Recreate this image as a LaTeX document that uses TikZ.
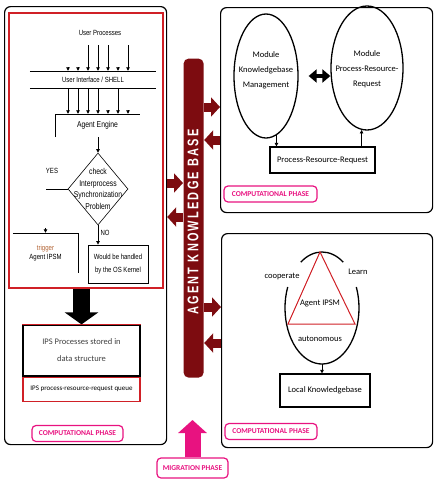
\documentclass[tikz,border=0pt]{standalone}
\usepackage{fontspec}
\usepackage{graphicx}
\setmainfont{Carlito}
\newfontfamily\narrowfont[FakeStretch=0.8]{Liberation Sans}
\newfontfamily\barfont[LetterSpace=20]{Liberation Sans}
\usepackage{tikz}
\usetikzlibrary{arrows.meta,shapes.geometric}

\definecolor{kbred}{RGB}{125,12,16}
\definecolor{phasepink}{RGB}{232,18,128}
\definecolor{boxred}{RGB}{208,32,38}
\definecolor{trigbrown}{RGB}{176,96,48}

\tikzset{
	panel/.style={draw, line width=1.2, rounded corners=6, anchor=north west, inner sep=0},
	phase/.style={draw=phasepink, line width=1.2, rounded corners=4, text=phasepink, font=\fontsize{7.5}{8}\selectfont\bfseries, inner sep=2, minimum height=16},
	narrowtxt/.style={font=\narrowfont\fontsize{7.5}{11}\selectfont, inner sep=0, align=center},
	modtxt/.style={font=\fontsize{8.5}{15}\selectfont, inner sep=1, align=center},
	module/.style={draw, ellipse, line width=1.3, inner sep=0},
	decision/.style={draw, diamond, line width=0.6, inner sep=0, minimum width=60, minimum height=72},
	tickarrow/.style={line width=0.8, -{Triangle[length=3.5pt,width=3.5pt]}},
	kbarrow/.style={kbred, line width=9, -{Triangle[length=9pt,width=19pt]}},
	bigarrow/.style={black, line width=17, -{Triangle[length=12pt,width=33pt]}},
	migarrow/.style={phasepink, line width=16, -{Triangle[length=13pt,width=28pt]}},
	duoarrow/.style={line width=4.5, {Triangle[length=8pt,width=13pt]}-{Triangle[length=8pt,width=13pt]}}
}

\begin{document}
\begin{tikzpicture}[x=1pt,y=-1pt]
	\useasboundingbox (0,0) rectangle (439,479);
	\node[panel, minimum width=162, minimum height=438] (leftpanel) at (4,6) {};
	\node[panel, draw=boxred, line width=1.6, rounded corners=0, minimum width=154, minimum height=275] (redbox) at (8,12) {};
	\node[panel, minimum width=212, minimum height=205] (toppanel) at (220,7) {};
	\node[panel, minimum width=211, minimum height=214] (botpanel) at (221,233) {};
	\node[panel, draw=none, fill=kbred, rounded corners=5, minimum width=20, minimum height=319] (kb) at (183,58) {};
	\node[rotate=90, inner sep=0, text=white, font=\barfont\bfseries\fontsize{11}{12}\selectfont] (kbtext) at (193,222) {\scalebox{1}[1.4]{AGENT KNOWLEDGE BASE}};

	\draw[kbarrow] (kb.east |- 0,107) -- (toppanel.west |- 0,107);
	\draw[kbarrow] (toppanel.west |- 0,140) -- (kb.east |- 0,140);
	\draw[kbarrow] (leftpanel.east |- 0,183) -- (kb.west |- 0,183);
	\draw[kbarrow] (kb.west |- 0,217) -- (leftpanel.east |- 0,217);
	\draw[kbarrow] (kb.east |- 0,307) -- (botpanel.west |- 0,307);
	\draw[kbarrow] (botpanel.west |- 0,343) -- (kb.east |- 0,343);

	\node[narrowtxt] (userproc) at (100,33) {User Processes};
	\node[narrowtxt, minimum width=126, minimum height=17] (shell) at (93,79.5) {User Interface / SHELL};
	\draw (shell.north west) -- (shell.north east) (shell.south west) -- (shell.south east);
	\foreach \x in {88,98,108,128}
		\draw[tickarrow] (\x,45) -- (\x,0 |- shell.north);
	\foreach \x in {68,78,118}
		\draw[tickarrow] (\x,67) -- (\x,0 |- shell.north);

	\node[narrowtxt, minimum width=85, minimum height=23, font=\narrowfont\fontsize{8.5}{11}\selectfont] (engine) at (97.5,125.5) {Agent Engine};
	\draw (engine.south west) -- (engine.north west) -- (engine.north east);
	\foreach \x in {68,78,88,98,118}
		\draw[tickarrow] (\x,0 |- shell.south) -- (\x,0 |- engine.north);
	\foreach \x in {108,128}
		\draw[tickarrow] (\x,110) -- (\x,0 |- engine.north);

	\node[decision] (check) at (98,189) {};
	\node[narrowtxt, font=\narrowfont\fontsize{8.5}{11.5}\selectfont] (checktxt) at (check) {check\\Interprocess\\Synchronization\\Problem};
	\draw[tickarrow] (check.north |- engine.south) -- (check.north);

	\node[narrowtxt, minimum width=65, minimum height=40, font=\narrowfont\fontsize{7.5}{9.5}\selectfont] (trigger) at (45.5,253) {\textcolor{trigbrown}{trigger}\\Agent IPSM};
	\draw (trigger.north west) -- (trigger.north east) -- (trigger.south east);
	\draw (check.west) -- (check.west -| trigger.north);
	\node[narrowtxt] (yes) at (52,171) {YES};
	\draw[tickarrow] ([yshift=5]trigger.north) -- (trigger.north);

	\node[narrowtxt, draw, line width=0.8, minimum width=60, minimum height=38, font=\narrowfont\fontsize{7.5}{12.5}\selectfont] (oskernel) at (118,264) {Would be handled\\by the OS Kernel};
	\draw[tickarrow] (check.south) -- (check.south |- oskernel.north);
	\node[narrowtxt] (no) at (105,233) {NO};

	\node[draw, line width=1.2, minimum width=117, minimum height=51, inner sep=0, align=center, text=darkgray, font=\fontsize{8.5}{17}\selectfont] (ips) at (81.5,350.5) {IPS Processes stored in\\data structure};
	\draw[boxred, line width=1.2] (ips.north west) -- (ips.north east);
	\node[draw=boxred, line width=1.2, minimum width=117, minimum height=24, inner sep=0, anchor=north, font=\fontsize{7}{8}\selectfont] (ipsqueue) at (ips.south) {IPS process-resource-request queue};
	\draw[line width=1.2] (ips.south west) -- (ips.south east);
	\draw[bigarrow] (ips.north |- redbox.south) -- (ips.north);
	\node[phase, minimum width=91] (phaseleft) at (77.5,433.5) {COMPUTATIONAL PHASE};

	\node[module, minimum width=64, minimum height=124] (kbmanage) at (266,76) {};
	\node[modtxt] (kbmanagetxt) at (266,70) {Module\\Knowledgebase\\Management};
	\node[module, minimum width=72, minimum height=124] (prmodule) at (367,68) {};
	\node[modtxt] (prmoduletxt) at (367,69) {Module\\Process-Resource-\\Request};
	\draw[duoarrow] ([xshift=10]kbmanage.east) -- (kbmanage.east -| prmodule.west);
	\node[draw, line width=1.2, minimum width=105, minimum height=26, modtxt] (prrequest) at (322.5,160) {Process-Resource-Request};
	\draw[tickarrow] (kbmanage.-80) -- (prrequest.north -| kbmanage.-80);
	\draw[tickarrow] (prrequest.north -| prmodule.-95) -- (prmodule.-95);
	\node[phase, minimum width=93] (phasetop) at (270.5,194) {COMPUTATIONAL PHASE};

	\coordinate (ipsm) at (322,308);
	\draw[line width=1.3] (ipsm) ++(-125:37 and 56) arc[start angle=-125, end angle=-55, x radius=37, y radius=56];
	\draw[line width=1.3] (ipsm) ++(202:37 and 56) arc[start angle=202, end angle=-22, x radius=37, y radius=56];
	\draw[boxred, line width=1] (320,252) -- (288,324) -- (355,324) -- cycle;
	\node[modtxt] (coop) at (282,276) {cooperate};
	\node[modtxt] (learn) at (358,272) {Learn};
	\node[modtxt] (agentipsm) at (320,303) {Agent IPSM};
	\node[modtxt] (autonomous) at (320,339) {autonomous};
	\node[draw, line width=1.2, minimum width=90, minimum height=33, modtxt] (localkb) at (325,390.5) {Local Knowledgebase};
	\draw[tickarrow] (ipsm |- 0,364) -- (ipsm |- localkb.north);
	\node[phase, minimum width=92] (phasebot) at (271,431.5) {COMPUTATIONAL PHASE};

	\node[phase, minimum width=71, minimum height=20] (migration) at (192.5,468) {MIGRATION PHASE};
	\draw[migarrow] (migration.north) -- (migration.north |- 0,420);
\end{tikzpicture}
\end{document}
